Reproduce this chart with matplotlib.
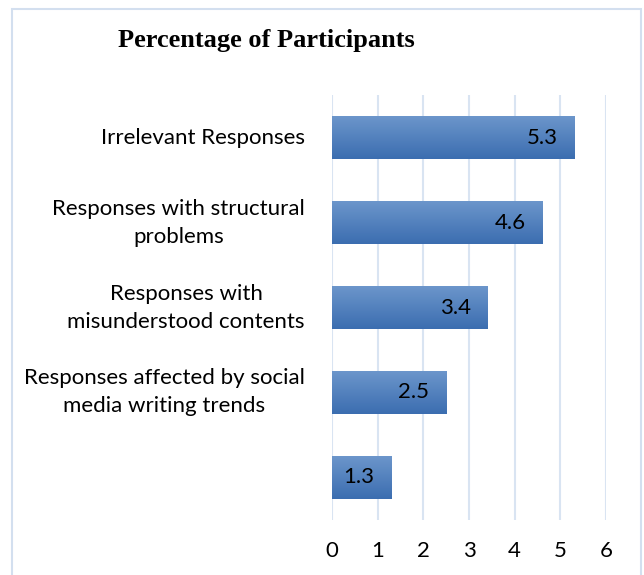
import matplotlib.pyplot as plt
import numpy as np
from matplotlib.patches import Rectangle

categories = ["Irrelevant Responses",
              "Responses with structural\nproblems",
              "Responses with\nmisunderstood contents",
              "Responses affected by social\nmedia writing trends",
              ""]
values = [5.3, 4.6, 3.4, 2.5, 1.3]
xticks = [0, 1, 2, 3, 4, 5, 6]

fig = plt.figure(figsize=(6.44, 5.75), dpi=100)
ax = fig.add_axes([0.5155, 0.0957, 0.4255, 0.739])

# outer chart frame
fig.patches.append(Rectangle((12 / 644, -0.05), 629 / 644, 1.05 - 9 / 575,
                             transform=fig.transFigure, fill=False,
                             edgecolor="#d3dfef", linewidth=1.5))

y = np.arange(len(values))
bar_h = 0.5
grad = np.linspace(0, 1, 256).reshape(-1, 1)
top_c = np.array([0x6c, 0x96, 0xcb]) / 255
bot_c = np.array([0x3b, 0x6d, 0xb0]) / 255
img = top_c + (bot_c - top_c) * grad[..., None]
img = img.reshape(256, 1, 3)

for yi, v in zip(y, values):
    bar = ax.barh(yi, v, height=bar_h, color="none", edgecolor="none")[0]
    im = ax.imshow(img, extent=[0, v, yi + bar_h / 2, yi - bar_h / 2],
                   aspect="auto", zorder=2, interpolation="bilinear")
    im.set_clip_path(bar)
    ax.annotate(f"{v}", (v, yi), xytext=(-12, 0), textcoords="offset points",
                ha="right", va="center", fontsize=16, family="Lato",
                color="black", zorder=3)

ax.set_xlim(0, 6)
ax.set_ylim(len(values) - 0.5, -0.5)
ax.set_xticks(xticks)
ax.set_yticks(y)
ax.set_yticklabels(categories, multialignment="center", linespacing=1.5,
                   va="center")
ax.grid(axis="x", color="#d9e4f2", linewidth=1.5, zorder=0)
ax.set_axisbelow(True)
for s in ax.spines.values():
    s.set_visible(False)
ax.tick_params(axis="both", length=0, labelsize=16)
ax.tick_params(axis="y", pad=19.5)
ax.tick_params(axis="x", pad=15)
for lab in ax.get_xticklabels() + ax.get_yticklabels():
    lab.set_family("Lato")

fig.text(266 / 644, 1 - 41 / 575, "Percentage of Participants", ha="center",
         va="center", fontsize=19, fontweight="bold", family="Liberation Serif")

fig.savefig("out.png", dpi=100)
